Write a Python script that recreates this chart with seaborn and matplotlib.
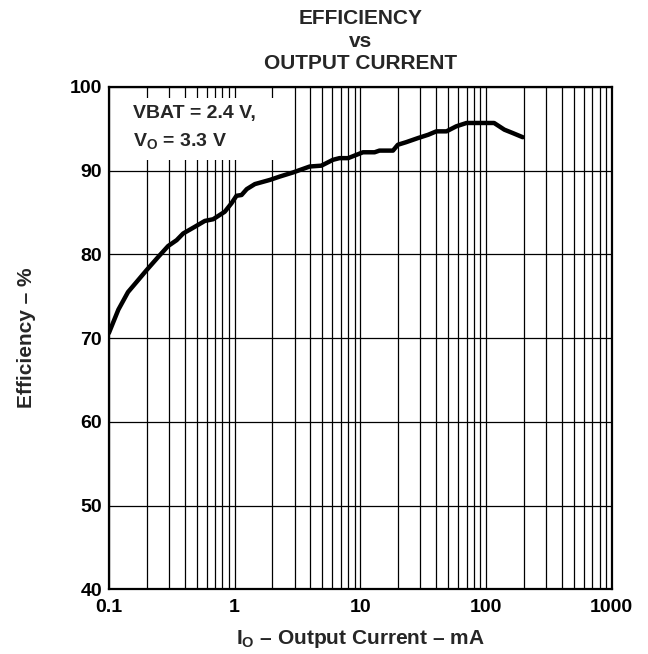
import numpy as np
import pandas as pd
import matplotlib
matplotlib.use("Agg")
import matplotlib.pyplot as plt
from matplotlib.patches import Rectangle
from matplotlib.ticker import LogLocator, FixedLocator, NullFormatter
import seaborn as sns

# values
current_ma = [0.1, 0.119, 0.142, 0.166, 0.199, 0.247, 0.296, 0.346, 0.39, 0.483,
              0.58, 0.675, 0.836, 0.944, 1.035, 1.137, 1.25, 1.45, 1.91, 2.29,
              2.93, 3.96, 4.9, 6.06, 6.83, 8.0, 10.5, 13.0, 14.2, 18.2,
              19.9, 23.1, 28.8, 34.8, 40.3, 48.5, 58.0, 70.0, 116, 140,
              163, 196]
efficiency = [70.6, 73.4, 75.5, 76.7, 78.1, 79.7, 81.0, 81.7, 82.5, 83.3,
              84.0, 84.2, 85.1, 86.1, 87.0, 87.1, 87.8, 88.4, 88.9, 89.3,
              89.8, 90.5, 90.6, 91.3, 91.5, 91.5, 92.2, 92.2, 92.4, 92.4,
              93.1, 93.4, 93.9, 94.3, 94.7, 94.7, 95.3, 95.7, 95.7, 94.9,
              94.5, 94.0]
x_ticks = [0.1, 1, 10, 100, 1000]
x_tick_labels = ["0.1", "1", "10", "100", "1000"]
y_ticks = [40, 50, 60, 70, 80, 90, 100]

sns.set_theme(style="white")
plt.rcParams["font.family"] = ["Liberation Sans", "DejaVu Sans"]
plt.rcParams["font.weight"] = "bold"
plt.rcParams["mathtext.fontset"] = "custom"
plt.rcParams["mathtext.rm"] = "Liberation Sans:bold"
plt.rcParams["mathtext.it"] = "Liberation Sans:bold"
plt.rcParams["mathtext.bf"] = "Liberation Sans:bold"
plt.rcParams["mathtext.default"] = "rm"

df = pd.DataFrame({"current": current_ma, "efficiency": efficiency})

fig = plt.figure(figsize=(6.48, 6.54), dpi=100)
ax = fig.add_axes([0.168, 0.099, 0.776, 0.768])

ax.set_xscale("log")
ax.set_xlim(0.1, 1000)
ax.set_ylim(40, 100)

# grid: every minor decade line vertically, only majors horizontally
ax.xaxis.set_major_locator(FixedLocator(x_ticks))
ax.xaxis.set_minor_locator(LogLocator(base=10, subs=np.arange(2, 10)))
ax.xaxis.set_minor_formatter(NullFormatter())
ax.set_xticks(x_ticks)
ax.set_xticklabels(x_tick_labels)
ax.set_yticks(y_ticks)
ax.grid(True, which="both", axis="x", color="black", lw=0.9)
ax.grid(True, which="major", axis="y", color="black", lw=0.9)
ax.set_axisbelow(True)

sns.lineplot(data=df, x="current", y="efficiency", color="black", lw=3.2, ax=ax)

for s in ax.spines.values():
    s.set_color("black")
    s.set_linewidth(1.6)

ax.tick_params(axis="both", which="both", length=0, labelsize=14, colors="black")
ax.tick_params(axis="x", pad=7)
ax.tick_params(axis="y", pad=5)
for lab in ax.get_xticklabels() + ax.get_yticklabels():
    lab.set_fontweight("bold")

ax.set_xlabel(r"I$_{O}$ – Output Current – mA", fontsize=15, fontweight="bold", labelpad=9)
ax.set_ylabel("Efficiency – %", fontsize=15, fontweight="bold", labelpad=24)

# white patch behind the condition note hides the grid there
ax.add_patch(Rectangle((0.022, 0.855), 0.322, 0.123, transform=ax.transAxes,
                       facecolor="white", edgecolor="none", zorder=1.5))
ax.text(0.048, 0.965, "VBAT = 2.4 V,\nV$_{O}$ = 3.3 V", transform=ax.transAxes,
        fontsize=14, fontweight="bold", va="top", ha="left", linespacing=1.65, zorder=2)

ax.set_title("EFFICIENCY\nvs\nOUTPUT CURRENT", fontsize=15, fontweight="bold",
             linespacing=1.22, pad=13)

fig.savefig("out.png", dpi=100)
